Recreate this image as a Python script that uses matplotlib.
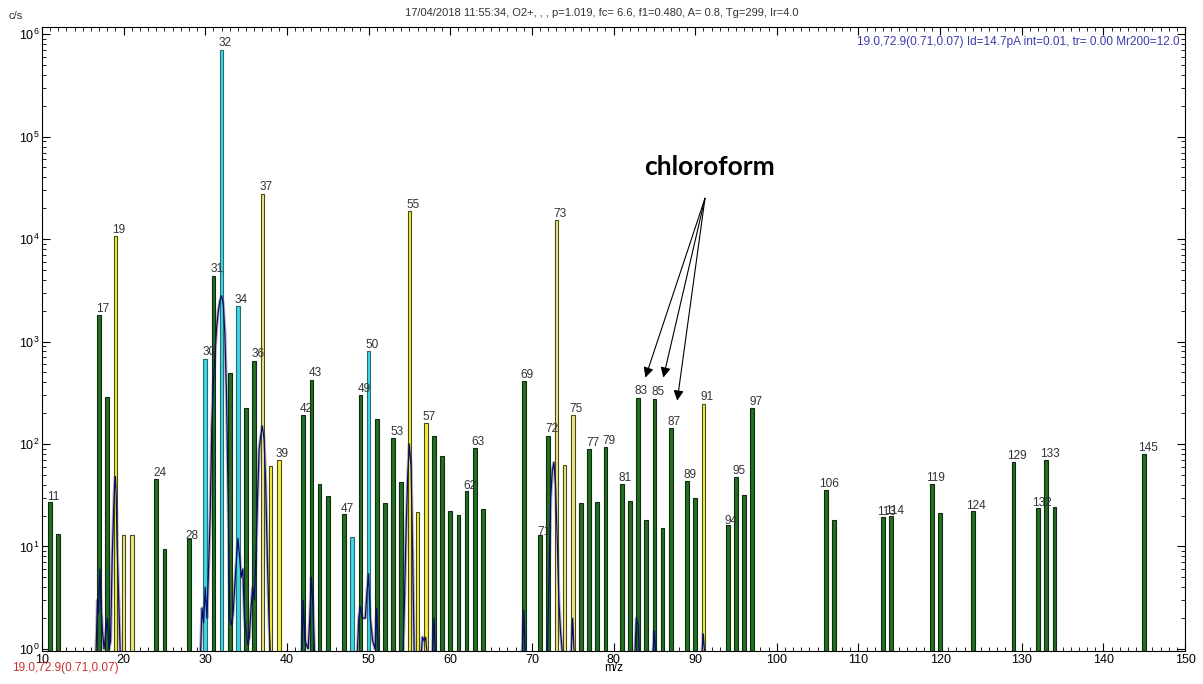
import numpy as np
import matplotlib.pyplot as plt
from matplotlib.ticker import LogLocator, MultipleLocator, NullFormatter

# peak table (m/z, counts per second, colour group)
mz = [11, 12, 17, 18, 19, 20, 21, 24, 25, 28, 30, 31, 32, 33, 34, 35, 36, 37, 38, 39,
      42, 43, 44, 45, 47, 48, 49, 50, 51, 52, 53, 54, 55, 56, 57, 58, 59, 60, 61, 62,
      63, 64, 69, 71, 72, 73, 74, 75, 76, 77, 78, 79, 81, 82, 83, 84, 85, 86, 87, 89,
      90, 91, 94, 95, 96, 97, 106, 107, 113, 114, 119, 120, 124, 129, 132, 133, 134, 145]
cps = [26, 12.4, 1800, 285, 10600, 12, 12, 45, 8.5, 10.9, 680, 4400, 700000, 490, 2200, 226, 650, 27500, 60, 69,
       190, 425, 40, 30, 20, 11.6, 298, 800, 173, 25.6, 113, 42, 18700, 21, 158, 118, 75, 21.4, 19.5, 33.5,
       90, 22.4, 407, 11.9, 120, 15200, 61, 190, 25.6, 88, 26, 92, 40, 27, 283, 17.4, 277, 14.2, 141, 43,
       29, 247, 15.2, 47, 31, 223, 35, 17.4, 18.6, 19, 40, 20.4, 21.4, 66, 22.8, 69, 23.4, 79]
group = ['g', 'g', 'g', 'g', 'y', 'k', 'k', 'g', 'g', 'g', 'c', 'g', 'c', 'g', 'c', 'g', 'g', 'k', 'y', 'y',
         'g', 'g', 'g', 'g', 'g', 'c', 'g', 'c', 'g', 'g', 'g', 'g', 'y', 'y', 'y', 'g', 'g', 'g', 'g', 'g',
         'g', 'g', 'g', 'g', 'g', 'k', 'k', 'k', 'g', 'g', 'g', 'g', 'g', 'g', 'g', 'g', 'g', 'g', 'g', 'g',
         'g', 'y', 'g', 'g', 'g', 'g', 'g', 'g', 'g', 'g', 'g', 'g', 'g', 'g', 'g', 'g', 'g', 'g']
labelled = [11, 17, 19, 24, 28, 30, 31, 32, 34, 36, 37, 39, 42, 43, 47, 49, 50, 53, 55, 57, 62, 63,
            69, 71, 72, 73, 75, 77, 79, 81, 83, 85, 87, 89, 91, 94, 95, 97, 106, 113, 114, 119,
            124, 129, 132, 133, 145]

# raw scan profile underneath the bars (one line per region)
trace_mz = [16.6, 16.8, 16.9, 17.0, 17.1, 17.2, 17.4, 17.6, 17.8, 18.0, 18.2, 18.4, 18.6, 18.8, 18.9, 19.0, 19.1, 19.2, 19.4, 19.6,
            29.4, 29.6, 29.8, 30.0, 30.2, 30.4, 30.6, 30.8, 31.0, 31.2, 31.4, 31.6, 31.8, 32.0, 32.2, 32.4, 32.6, 32.8, 33.0, 33.2, 33.4, 33.6,
            33.8, 34.0, 34.2, 34.4, 34.6, 34.8, 35.0, 35.2, 35.4, 35.6, 35.8, 36.0, 36.2, 36.4, 36.6, 36.8, 37.0, 37.2, 37.4, 37.6, 37.8, 38.0,
            41.8, 42.0, 42.2, 42.6, 42.8, 43.0, 43.2, 43.4,
            48.6, 48.8, 49.0, 49.2, 49.6, 49.8, 50.0, 50.2, 50.5, 50.8, 51.0, 51.2,
            54.2, 54.4, 54.6, 54.8, 55.0, 55.2, 55.4, 55.6,
            56.4, 56.6, 56.8, 57.0, 57.2,
            57.8, 58.0, 58.2,
            68.8, 69.0, 69.2,
            71.9, 72.1, 72.3, 72.5, 72.7, 72.9, 73.1, 73.3, 73.5, 73.8,
            74.8, 75.0, 75.2,
            82.6, 82.8, 83.0, 83.2,
            84.8, 85.0, 85.2,
            90.8, 91.0, 91.2]
trace_cps = [0.8, 3, 2.2, 4, 6, 3, 1.5, 1, 1.4, 2, 1, 1.2, 8, 25, 40, 48, 30, 10, 3, 0.8,
             0.8, 2.5, 1.8, 4, 2, 6, 20, 150, 400, 800, 1400, 2000, 2500, 2800, 2300, 1200, 300, 30, 2, 1.7, 2.2, 4,
             7, 12, 8, 5, 6, 2, 1.5, 1.1, 1.3, 2.5, 4, 3, 8, 30, 90, 120, 150, 110, 40, 8, 2, 0.8,
             0.8, 3, 1.2, 1, 2, 5, 2.5, 0.8,
             0.8, 2, 2.6, 2, 2, 3.5, 5.4, 2, 1.2, 1, 2.5, 0.8,
             0.8, 3, 15, 50, 100, 60, 8, 0.8,
             0.8, 1.3, 1.2, 1.3, 0.8,
             0.8, 2, 0.8,
             0.8, 2.4, 0.8,
             0.8, 5, 30, 55, 66, 40, 12, 3, 1.5, 0.8,
             0.8, 2, 0.8,
             0.8, 2, 1.7, 0.8,
             0.8, 1.5, 0.8,
             0.8, 1.4, 0.8]

fills = {'g': '#246e24', 'y': '#f2f03a', 'k': '#ece58c', 'c': '#3cd9e6'}
edges = {'g': '#0d2e0d', 'y': '#4a4a10', 'k': '#4a4a10', 'c': '#2a6a70'}

header = '17/04/2018 11:55:34, O2+, , , p=1.019, fc= 6.6, f1=0.480, A= 0.8, Tg=299, Ir=4.0'
info = '19.0,72.9(0.71,0.07) Id=14.7pA int=0.01, tr= 0.00 Mr200=12.0'
cursor = '19.0,72.9(0.71,0.07)'

plt.rcParams['font.family'] = ['Liberation Sans', 'DejaVu Sans']

fig = plt.figure(figsize=(12.03, 6.84), dpi=100)
ax = fig.add_axes([0.0349, 0.048, 0.9502, 0.9125])

ax.plot(trace_mz, trace_cps, color='#b8b8b8', lw=2.4, zorder=1)
ax.bar(mz, cps, width=0.45, bottom=0.9,
       color=[fills[g] for g in group], edgecolor=[edges[g] for g in group],
       linewidth=0.8, zorder=2)
ax.plot(trace_mz, trace_cps, color='#0a0a6e', lw=0.9, zorder=2.5)

for m, v in zip(mz, cps):
    if m in labelled:
        ax.annotate(str(m), (m, v), xytext=(2.5, 0.5), textcoords='offset points',
                    ha='center', va='bottom', fontsize=8.5, color='#333333', zorder=3)

ax.set_yscale('log')
ax.set_xlim(10, 150)
ax.set_ylim(0.95, 10 ** 6.07)
ax.xaxis.set_major_locator(MultipleLocator(10))
ax.xaxis.set_minor_locator(MultipleLocator(1))
ax.yaxis.set_major_locator(LogLocator(base=10, numticks=10))
ax.yaxis.set_minor_locator(LogLocator(base=10, subs=np.arange(2, 10), numticks=20))
ax.yaxis.set_minor_formatter(NullFormatter())
ax.tick_params(which='both', direction='in', top=True, right=True, labelsize=9, pad=2)
ax.tick_params(which='major', length=6, width=0.8)
ax.tick_params(which='minor', length=3, width=0.6)
for s in ax.spines.values():
    s.set_linewidth(0.8)
ax.set_xlabel('m/z', fontsize=8.5, labelpad=-3)

# header lines and cursor readouts
fig.text(0.007, 0.977, 'c/s', fontsize=8, va='center', color='#333333',
         family=['Liberation Sans Narrow', 'Liberation Sans'])
fig.text(0.5, 0.981, header, fontsize=8, ha='center', va='center', color='#333333',
         family=['Liberation Sans Narrow', 'Liberation Sans'])
ax.text(0.995, 0.985, info, transform=ax.transAxes, ha='right', va='top',
        fontsize=8.5, color='#3a3ab0')
fig.text(0.01, 0.023, cursor, fontsize=8.5, va='center', color='#cc3030')

# chloroform isotope annotation
ax.text(91.8, 5.0e4, 'chloroform', fontsize=19, fontweight='bold', ha='center', va='center',
        family=['Lato', 'DejaVu Sans'])
for tx, ty in [(83.9, 445), (86.1, 445), (87.8, 265)]:
    ax.annotate('', xy=(tx, ty), xytext=(91.2, 2.5e4),
                arrowprops=dict(arrowstyle='-|>', color='black', lw=0.8,
                                mutation_scale=15, shrinkA=0, shrinkB=0))

fig.savefig('out.png', dpi=100)
